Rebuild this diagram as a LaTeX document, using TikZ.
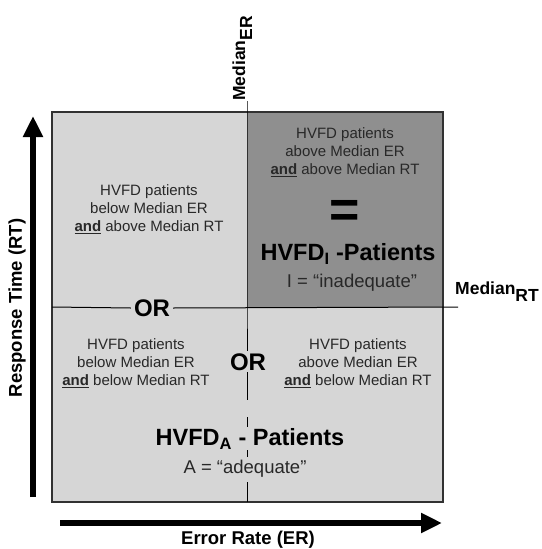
\documentclass[tikz,border=0pt]{standalone}
\usepackage{fontspec}
\setmainfont{Liberation Sans}
\usetikzlibrary{arrows.meta}
\definecolor{lightq}{RGB}{214,214,214}
\definecolor{darkq}{RGB}{143,143,143}
\definecolor{txt}{RGB}{40,40,40}
\definecolor{frame}{RGB}{50,50,50}
\begin{document}
\begin{tikzpicture}[x=1pt,y=-1pt,
  quadtext/.style={align=center,text=txt,font=\fontsize{15}{17.9}\selectfont,inner sep=0pt},
  bigtext/.style={text=black,font=\fontsize{23.5}{26}\selectfont\bfseries,inner sep=0pt},
  subtext/.style={text=txt,font=\fontsize{18.5}{20}\selectfont,inner sep=0pt},
  ortext/.style={text=black,font=\fontsize{24}{26}\selectfont\bfseries,fill=lightq,inner sep=3pt},
  axislabel/.style={text=black,font=\fontsize{18.5}{20}\selectfont\bfseries,inner sep=0pt},
  medlabel/.style={text=black,font=\fontsize{17.5}{19}\selectfont\bfseries,inner sep=0pt},
  axisarrow/.style={line width=6pt,-{Triangle[length=21pt,width=19pt]}},
  divider/.style={line width=1pt,black}]
\useasboundingbox (0,0) rectangle (541,549);
% quadrant fills
\coordinate (boxTL) at (52,112);
\coordinate (boxBR) at (443,502);
\coordinate (mid) at (247,307);
\fill[lightq] (boxTL) rectangle (boxBR);
\fill[darkq] (247,112) rectangle (443,307);
\draw[frame,line width=1.3pt] (boxTL) rectangle (boxBR);
% divider end points
\coordinate (hL) at (52,307);
\coordinate (hR) at (458,307);
\coordinate (vT) at (247,101);
\coordinate (vB) at (247,502);
\coordinate (vD) at (247,372);
% OR nodes
\node[ortext] (or1) at (152,308) {OR};
\node[ortext] (or2) at (248,362) {OR};
% dividers
\draw[divider] (hL) -- (or1.west);
\draw[divider] (or1.east) -- (hR);
\draw[divider] (vT) -- (mid) -- (247,351);
\draw[divider,dash pattern=on 28pt off 17pt on 10pt off 23pt on 7pt off 25pt on 30pt] (vD) -- (vB);
% quadrant texts
\node[quadtext] (tl) at (149,209) {HVFD patients\\below Median ER\\\underline{\textbf{and}} above Median RT};
\node[quadtext] (tr) at (345,152) {HVFD patients\\above Median ER\\\underline{\textbf{and}} above Median RT};
\node[text=black,font=\fontsize{52}{52}\selectfont\bfseries,inner sep=0pt] (eq) at (345,214) {=};
\node[bigtext] (hvfdi) at (348,254) {HVFD\textsubscript{I} -Patients};
\node[subtext] (inad) at (352,283) {I = “inadequate”};
\node[quadtext] (bl) at (136,363) {HVFD patients\\below Median ER\\\underline{\textbf{and}} below Median RT};
\node[quadtext] (br) at (358,363) {HVFD patients\\above Median ER\\\underline{\textbf{and}} below Median RT};
\node[bigtext] (hvfda) at (250,439) {HVFD\textsubscript{A} - Patients};
\node[subtext,fill=lightq] (adeq) at (245,469) {A = “adequate”};
% median labels
\node[medlabel,rotate=90,anchor=base west] (medER) at (245,101) {Median\raisebox{-7pt}{ER}};
\node[medlabel,anchor=base west] (medRT) at (455,294) {Median\raisebox{-7pt}{RT}};
% axes
\coordinate (yA0) at (33,497);
\coordinate (yA1) at (33,116);
\coordinate (xA0) at (60,523);
\coordinate (xA1) at (442,523);
\draw[axisarrow] (yA0) -- (yA1);
\draw[axisarrow] (xA0) -- (xA1);
\node[axislabel,rotate=90] (ylab) at (17,308) {Response Time (RT)};
\node[axislabel] (xlab) at (248,540) {Error Rate (ER)};
\end{tikzpicture}
\end{document}
